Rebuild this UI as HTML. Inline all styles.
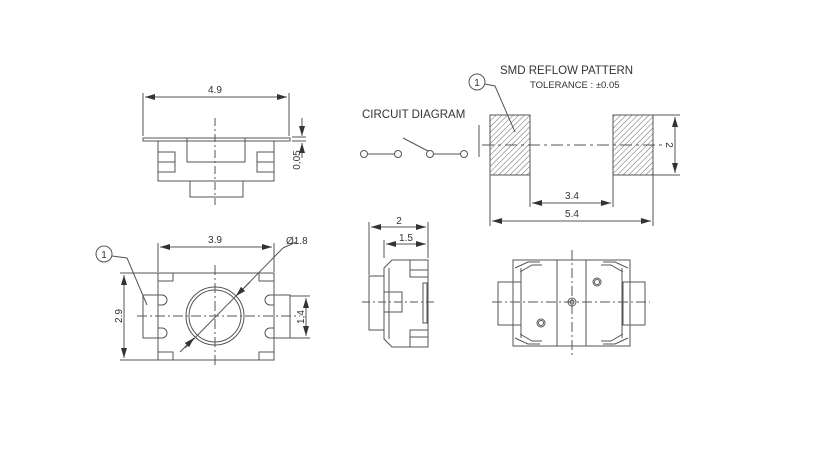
<!DOCTYPE html>
<html><head><meta charset="utf-8"><style>
html,body{margin:0;padding:0;background:#fff;width:819px;height:460px;overflow:hidden}
svg{display:block}
text{font-family:"Liberation Sans",sans-serif;fill:#333}
</style></head><body>
<svg width="819" height="460" viewBox="0 0 819 460" xmlns="http://www.w3.org/2000/svg">
<defs>
<marker id="a" viewBox="0 0 10 6" refX="10" refY="3" markerWidth="10" markerHeight="6" orient="auto-start-reverse" markerUnits="userSpaceOnUse"><path d="M0,0L10,3L0,6z" fill="#333"/></marker>
<pattern id="h" width="4" height="4" patternUnits="userSpaceOnUse" patternTransform="rotate(45)"><line x1="0" y1="0" x2="0" y2="4" stroke="#666" stroke-width="1"/></pattern>
</defs>
<g stroke="#555" stroke-width="1" fill="none">
<line x1="143" y1="93" x2="143" y2="136"/><line x1="289" y1="93" x2="289" y2="136"/>
<line x1="145" y1="97" x2="287" y2="97" marker-start="url(#a)" marker-end="url(#a)"/>
<rect x="143" y="138" width="147" height="3"/>
<rect x="158" y="141" width="116" height="40"/>
<rect x="187" y="138" width="58" height="24"/>
<rect x="158" y="152" width="17" height="20"/><rect x="257" y="152" width="17" height="20"/>
<line x1="158" y1="162" x2="175" y2="162"/><line x1="257" y1="162" x2="274" y2="162"/>
<rect x="190" y="181" width="53" height="16"/>
<line x1="215" y1="118" x2="215" y2="205" stroke-dasharray="8,3,2,3"/>
<line x1="302" y1="118" x2="302" y2="136" marker-end="url(#a)"/>
<line x1="302" y1="158" x2="302" y2="143" marker-end="url(#a)"/>
<line x1="292" y1="137" x2="306" y2="137"/><line x1="292" y1="141" x2="306" y2="141"/>
<line x1="158" y1="243" x2="158" y2="272"/><line x1="274" y1="243" x2="274" y2="272"/>
<line x1="160" y1="247" x2="272" y2="247" marker-start="url(#a)" marker-end="url(#a)"/>
<rect x="158" y="273" width="116" height="87"/>
<rect x="158" y="273" width="15" height="8"/><rect x="259" y="273" width="15" height="8"/>
<rect x="158" y="352" width="15" height="8"/><rect x="259" y="352" width="15" height="8"/>
<rect x="143" y="295" width="15" height="43"/><rect x="274" y="295" width="16" height="43"/>
<path d="M158,295 h4 a3,3 0 0 1 0,10 h-4 M158,328 h4 a3,3 0 0 1 0,10 h-4"/>
<path d="M274,295 h-4 a3,3 0 0 0 0,10 h4 M274,328 h-4 a3,3 0 0 0 0,10 h4"/>
<circle cx="215" cy="316" r="29"/><circle cx="215" cy="316" r="26"/>
<line x1="137" y1="316" x2="300" y2="316" stroke-dasharray="10,3,2,3"/>
<line x1="215" y1="265" x2="215" y2="368" stroke-dasharray="10,3,2,3"/>
<line x1="283" y1="248" x2="296" y2="242"/>
<line x1="283" y1="248" x2="185" y2="348"/>
<line x1="250" y1="282" x2="236" y2="296" marker-end="url(#a)"/>
<line x1="180" y1="352" x2="194" y2="338" marker-end="url(#a)"/>
<line x1="120" y1="273" x2="158" y2="273"/><line x1="120" y1="360" x2="158" y2="360"/>
<line x1="124" y1="275" x2="124" y2="358" marker-start="url(#a)" marker-end="url(#a)"/>
<line x1="290" y1="296" x2="310" y2="296"/><line x1="290" y1="338" x2="310" y2="338"/>
<line x1="306" y1="298" x2="306" y2="336" marker-start="url(#a)" marker-end="url(#a)"/>
<circle cx="104" cy="254" r="8"/><path d="M112,256 L127,258 L147,305"/>
<line x1="369" y1="222" x2="369" y2="275"/><line x1="428" y1="222" x2="428" y2="258"/>
<line x1="384" y1="240" x2="384" y2="258"/>
<line x1="371" y1="227" x2="426" y2="227" marker-start="url(#a)" marker-end="url(#a)"/>
<line x1="386" y1="244" x2="426" y2="244" marker-start="url(#a)" marker-end="url(#a)"/>
<path d="M384,268 L392,260 H428 V347 H392 L384,339 Z"/>
<line x1="389" y1="268" x2="389" y2="339"/>
<rect x="369" y="276" width="15" height="54"/>
<rect x="384" y="292" width="18" height="20"/>
<rect x="410" y="260" width="18" height="17"/><line x1="410" y1="270" x2="428" y2="270"/>
<rect x="410" y="330" width="18" height="17"/><line x1="410" y1="337" x2="428" y2="337"/>
<rect x="423" y="283" width="4" height="40"/>
<line x1="362" y1="302" x2="436" y2="302" stroke-dasharray="8,3,2,3"/>
<rect x="513" y="260" width="117" height="86"/>
<rect x="498" y="282" width="23" height="43"/><rect x="623" y="282" width="22" height="43"/>
<line x1="521" y1="268" x2="521" y2="338"/><line x1="622" y1="268" x2="622" y2="338"/>
<line x1="557" y1="260" x2="557" y2="346"/><line x1="586" y1="260" x2="586" y2="346"/>
<path d="M515,268 L528,262 H540 M520,272 L532,265 H542"/>
<path d="M628,268 L615,262 H603 M623,272 L611,265 H601"/>
<path d="M515,338 L528,344 H540 M520,334 L532,341 H542"/>
<path d="M628,338 L615,344 H603 M623,334 L611,341 H601"/>
<circle cx="572" cy="302" r="4"/><circle cx="572" cy="302" r="2"/>
<circle cx="597" cy="282" r="4"/><circle cx="597" cy="282" r="2.5"/>
<circle cx="541" cy="323" r="4"/><circle cx="541" cy="323" r="2.5"/>
<line x1="492" y1="302" x2="650" y2="302" stroke-dasharray="10,3,2,3"/>
<line x1="572" y1="250" x2="572" y2="355" stroke-dasharray="10,3,2,3"/>
<rect x="490" y="115" width="40" height="60" fill="url(#h)"/>
<rect x="613" y="115" width="40" height="60" fill="url(#h)"/>
<line x1="479" y1="125" x2="479" y2="157"/>
<line x1="482" y1="145" x2="665" y2="145" stroke-dasharray="12,4,3,4"/>
<line x1="653" y1="115" x2="680" y2="115"/><line x1="653" y1="175" x2="680" y2="175"/>
<line x1="675" y1="117" x2="675" y2="173" marker-start="url(#a)" marker-end="url(#a)"/>
<line x1="490" y1="175" x2="490" y2="226"/><line x1="653" y1="175" x2="653" y2="226"/>
<line x1="530" y1="175" x2="530" y2="207"/><line x1="613" y1="175" x2="613" y2="207"/>
<line x1="532" y1="203" x2="611" y2="203" marker-start="url(#a)" marker-end="url(#a)"/>
<line x1="492" y1="221" x2="651" y2="221" marker-start="url(#a)" marker-end="url(#a)"/>
<circle cx="477" cy="82" r="8"/><path d="M485,84 L495,86 L515,132"/>
<circle cx="364" cy="154" r="3.5"/><circle cx="398" cy="154" r="3.5"/>
<circle cx="430" cy="154" r="3.5"/><circle cx="464" cy="154" r="3.5"/>
<line x1="367.5" y1="154" x2="394.5" y2="154"/><line x1="433.5" y1="154" x2="460.5" y2="154"/>
<line x1="403" y1="138" x2="428" y2="151"/>
</g>
<g font-size="10">
<text x="215" y="93" text-anchor="middle">4.9</text>
<text x="215" y="243" text-anchor="middle">3.9</text>
<text x="286" y="244">Ø1.8</text>
<text x="104" y="258" text-anchor="middle">1</text>
<text x="477" y="86" text-anchor="middle">1</text>
<text x="399" y="224" text-anchor="middle">2</text>
<text x="406" y="241" text-anchor="middle">1.5</text>
<text x="572" y="199" text-anchor="middle">3.4</text>
<text x="572" y="217" text-anchor="middle">5.4</text>
<text transform="translate(300,160) rotate(-90)" text-anchor="middle">0,05</text>
<text transform="translate(122,316) rotate(-90)" text-anchor="middle">2.9</text>
<text transform="translate(304,317) rotate(-90)" text-anchor="middle">1,4</text>
<text transform="translate(666,145) rotate(90)" text-anchor="middle">2</text>
<text x="362" y="118" font-size="11.5">CIRCUIT DIAGRAM</text>
<text x="500" y="74" font-size="11.5">SMD REFLOW PATTERN</text>
<text x="530" y="88" font-size="9.5">TOLERANCE : ±0.05</text>
</g>
</svg>
</body></html>
